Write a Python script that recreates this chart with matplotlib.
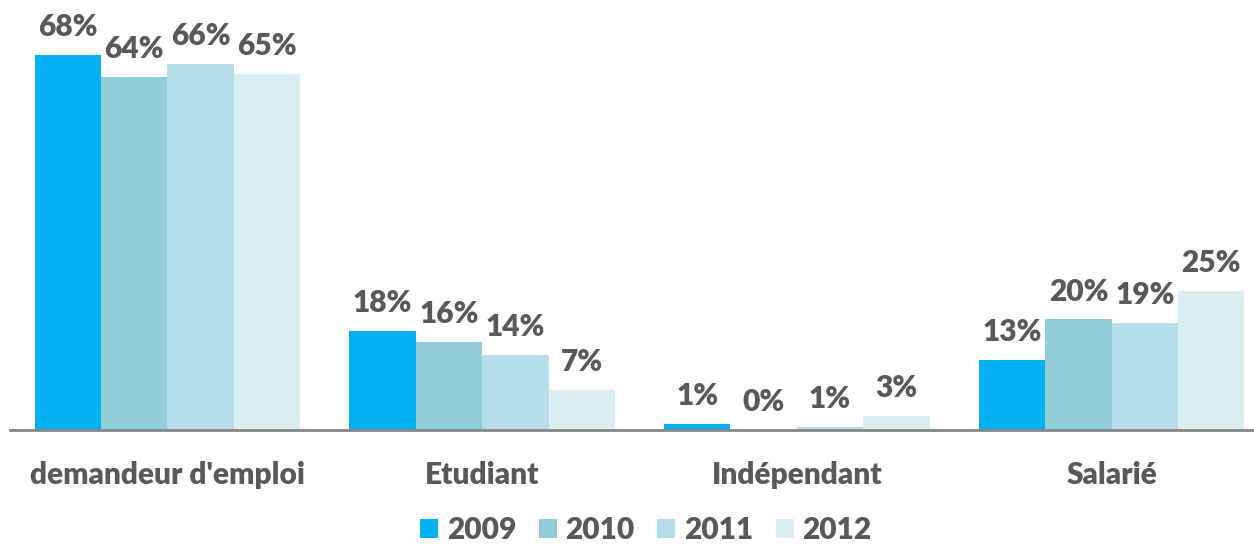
import matplotlib
matplotlib.use("Agg")
import matplotlib.pyplot as plt
import numpy as np

categories = ["demandeur d'emploi", "Etudiant", "Indépendant", "Salarié"]
years = ["2009", "2010", "2011", "2012"]
values = {
    "2009": [67.9, 17.9, 1.1, 12.7],
    "2010": [63.8, 15.9, 0.0, 20.0],
    "2011": [66.2, 13.6, 0.6, 19.4],
    "2012": [64.5, 7.2, 2.5, 25.1],
}
labels = {
    "2009": ["68%", "18%", "1%", "13%"],
    "2010": ["64%", "16%", "0%", "20%"],
    "2011": ["66%", "14%", "1%", "19%"],
    "2012": ["65%", "7%", "3%", "25%"],
}
colors = ["#00B0F0", "#92CDDC", "#B7DEE8", "#DAEEF3"]
text_color = "#595959"

plt.rcParams['font.family'] = ['Lato', 'DejaVu Sans']
fs = 21.5

fig = plt.figure(figsize=(12.54, 5.46), dpi=100)
ax = fig.add_axes([10 / 1254, 116 / 546, 1259 / 1254, 430 / 546])

x = np.arange(len(categories))
width = 0.211
for i, yr in enumerate(years):
    pos = x - 1.5 * width + i * width
    bars = ax.bar(pos, values[yr], width, color=colors[i], label=yr)
    for b, lab in zip(bars, labels[yr]):
        ax.annotate(lab, (b.get_x() + b.get_width() / 2, b.get_height()),
                    xytext=(0, 10), textcoords="offset points",
                    ha="center", va="bottom", fontsize=fs,
                    fontweight="heavy", color=text_color)

ax.set_xlim(-0.5, 3.5)
ax.set_ylim(0, 77.8)
ax.set_yticks([])
ax.set_xticks(x)
ax.set_xticklabels(categories, fontsize=fs, fontweight="heavy", color=text_color)
ax.tick_params(axis="x", length=0, pad=22)
for s in ["top", "right", "left"]:
    ax.spines[s].set_visible(False)
ax.spines["bottom"].set_color("#868686")
ax.spines["bottom"].set_linewidth(2)

leg = fig.legend(loc="center", bbox_to_anchor=(0.515, 0.03), ncol=4,
                 frameon=False, fontsize=fs, handlelength=0.6,
                 handleheight=0.6, handletextpad=0.3, columnspacing=0.75,
                 borderpad=0.1)
for t in leg.get_texts():
    t.set_color(text_color)
    t.set_fontweight("heavy")

fig.savefig("out.png", dpi=100)
